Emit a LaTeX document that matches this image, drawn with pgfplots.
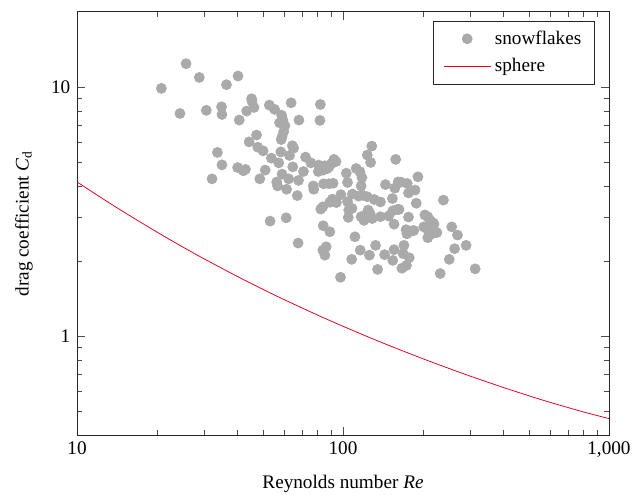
\documentclass[border=0pt]{standalone}
\usepackage{fontspec}
\setmainfont{Liberation Serif}
\usepackage{pgfplots}
\pgfplotsset{compat=1.18}
\definecolor{flake}{rgb}{0.667,0.667,0.667}
\definecolor{sph}{rgb}{0.89,0.0,0.12}
\pgfplotsset{
  flakeleg/.style={legend image code/.code={\draw[mark repeat=2,mark phase=2,##1] plot coordinates {(0cm,0cm) (0.43cm,0cm) (0.86cm,0cm)};}},
  lineleg/.style={legend image code/.code={\draw[##1] (0cm,0cm) -- (0.86cm,0cm);}},
}
\begin{document}
\begin{tikzpicture}
\begin{axis}[
  xmode=log, ymode=log,
  scale only axis,
  width=277pt, height=220.5pt,
  xmin=10, xmax=1000, ymin=0.4, ymax=20,
  log ticks with fixed point,
  /pgf/number format/1000 sep={,},
  /pgf/number format/assume math mode=true,
  xlabel={Reynolds number \textit{Re}},
  ylabel={drag coefficient \textit{C}\textsubscript{d}},
  xlabel shift=2pt, ylabel shift=2.6pt,
  legend style={draw=black!85, font=\normalsize, row sep=2pt, inner xsep=5pt, inner ysep=3pt,
    at={(0.974,0.979)}, anchor=north east},
  legend cell align=left,
  tick style={black!70},
  axis line style={black!85},
]
\addplot[only marks, mark=*, mark size=2.6pt, color=flake, mark options={draw=flake, fill=flake}, flakeleg] coordinates {
(20.76,9.85) (25.71,12.37) (24.38,7.81) (28.83,10.90) (30.63,8.04)
(34.95,8.31) (35.07,7.74) (36.47,10.19) (40.30,11.04) (40.73,7.35)
(43.43,7.99) (45.32,8.95) (45.48,8.73) (46.30,8.26) (52.84,8.44)
(55.34,8.11) (63.83,8.62) (58.79,7.69) (59.43,7.35) (57.75,7.17)
(60.49,6.97) (59.85,6.60) (59.00,6.30) (58.58,6.14) (68.30,7.35)
(82.21,8.49) (81.91,7.33) (47.31,6.40) (44.37,6.01) (47.82,5.72)
(50.08,5.53) (33.73,5.45) (35.07,4.86) (32.19,4.27) (40.16,4.74)
(42.97,4.66) (42.21,4.60) (50.99,4.63) (48.67,4.27) (53.79,5.17)
(58.38,5.48) (64.51,5.80) (65.20,5.67) (62.93,5.30) (72.29,5.22)
(75.73,4.95) (57.34,4.95) (64.73,4.77) (71.02,4.57) (59.00,4.46)
(56.34,4.15) (56.75,4.00) (62.48,4.27) (61.37,3.88) (68.05,4.21)
(67.33,3.66) (77.35,4.00) (77.64,3.88)
(81.04,4.85) (82.49,4.70) (85.48,4.82) (88.59,4.77) (90.51,4.92)
(92.45,5.11) (94.13,5.01) (80.74,4.57) (84.27,4.63) (87.33,4.70)
(84.57,4.08) (88.59,4.08) (91.80,4.10) (98.22,3.69) (102.9,4.50)
(104.0,4.13) (112.1,4.70) (115.8,4.56) (117.8,4.32) (123.4,5.32)
(127.0,4.97) (128.3,5.78) (157.8,5.11) (117.0,4.00) (108.5,3.71)
(114.5,3.64) (118.7,3.67) (91.17,3.54) (89.24,3.44) (94.45,3.43)
(104.0,3.46) (82.49,3.23) (83.97,3.30) (105.1,3.20) (104.7,2.99)
(108.1,3.25) (123.4,3.62) (131.1,3.53) (138.3,3.45) (117.0,3.01)
(122.1,3.06) (124.3,3.20) (126.5,3.10) (119.9,2.91) (128.8,2.96)
(144.4,4.05) (156.7,3.92) (161.2,4.15) (165.3,4.14) (174.4,4.09)
(153.4,3.56) (176.3,3.75) (186.6,3.85) (153.9,3.18) (160.1,3.22)
(162.4,3.22) (148.5,3.03) (138.3,3.01) (176.3,3.00) (191.3,4.35)
(188.6,3.41) (238.6,3.51) (155.6,2.81) (172.6,2.67) (173.8,2.57)
(182.0,2.64) (184.6,2.65) (203.2,3.06) (208.4,3.01) (212.2,2.91)
(217.6,2.85) (201.1,2.74) (208.4,2.67) (208.4,2.48) (216.0,2.57)
(225.4,2.60) (219.9,2.81) (256.3,2.74) (269.4,2.54) (262.8,2.24)
(290.3,2.31) (250.9,2.03) (232.0,1.78) (314.0,1.86) (84.27,2.77)
(89.24,2.62) (110.9,2.50) (67.81,2.36) (53.21,2.89) (61.15,2.98)
(83.97,2.21) (85.48,2.11) (86.42,2.28) (97.88,1.72) (107.8,2.03)
(116.1,2.21) (125.7,2.11) (132.6,2.31) (143.4,2.12) (134.9,1.85)
(155.6,2.22) (153.9,2.01) (169.5,2.31) (168.3,2.14) (177.5,2.06)
(166.5,1.87) (173.2,1.92)
};
\addlegendentry{snowflakes}
\addplot[sph, thin, smooth, lineleg] coordinates {
(10,4.151) (12.5,3.553) (15,3.143) (20,2.610) (25,2.275) (30,2.042)
(40,1.735) (50,1.539) (60,1.4005) (80,1.215) (100,1.094) (125,0.989)
(150,0.9135) (200,0.810) (250,0.7414) (300,0.691) (400,0.622)
(500,0.5757) (600,0.5419) (800,0.4962) (1000,0.4662)
};
\addlegendentry{sphere}
\end{axis}
\path (current axis.south west) ++(-40.1pt,-30.7pt) coordinate (bbA);
\path (current axis.north east) ++(17.2pt,6.1pt) coordinate (bbB);
\pgfresetboundingbox
\path[use as bounding box] (bbA) rectangle (bbB);
\end{tikzpicture}
\end{document}
